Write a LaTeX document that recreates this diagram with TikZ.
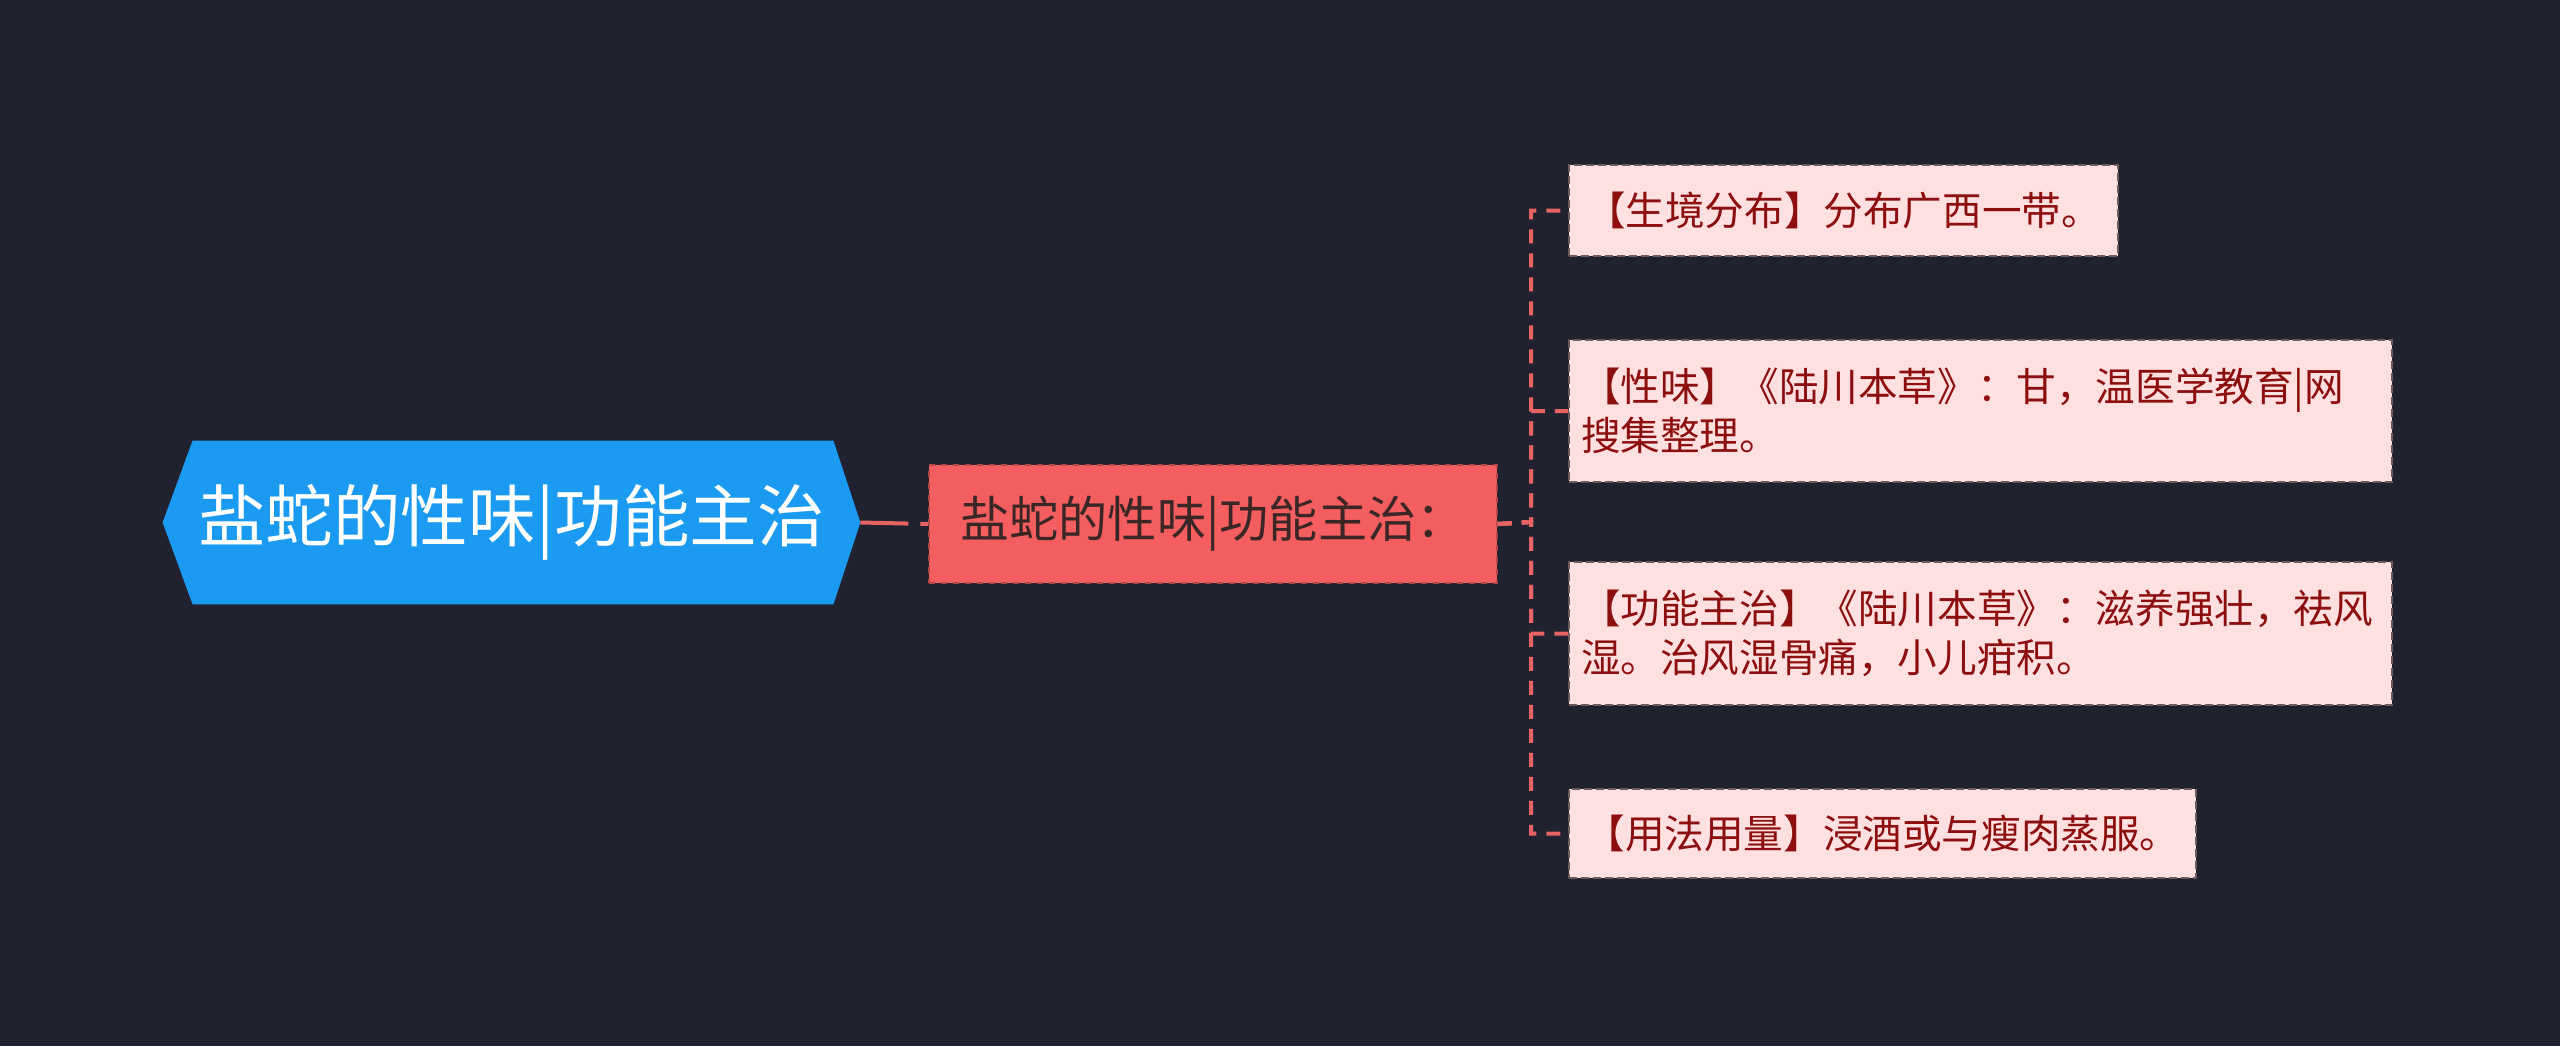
\documentclass[tikz,border=0pt]{standalone}
\usepackage{fontspec}
\newfontfamily\cjk{Noto Sans CJK SC}
\usetikzlibrary{backgrounds}
\definecolor{bgc}{HTML}{20232F}
\definecolor{rootc}{HTML}{1A9AF0}
\definecolor{midc}{HTML}{F45E5E}
\definecolor{midline}{HTML}{B84848}
\definecolor{midtext}{HTML}{3A2626}
\definecolor{leafc}{HTML}{FFE0E0}
\definecolor{leafline}{HTML}{6E5A5A}
\definecolor{leaftext}{HTML}{8C0E0E}
\definecolor{connc}{HTML}{E86464}
\tikzset{
  rootbox/.style={draw=none, inner sep=0pt, minimum width=348.5pt, minimum height=81.5pt,
    text=white, font=\cjk\fontsize{33.8pt}{40pt}\selectfont},
  midbox/.style={fill=midc, draw=midline, dashed, line width=0.8pt, inner sep=0pt,
    minimum width=284pt, minimum height=59pt, text=midtext, font=\cjk\fontsize{24.6pt}{30pt}\selectfont},
  leafbox/.style={fill=leafc, draw=leafline, dash pattern=on 4pt off 2pt, line width=0.7pt,
    inner xsep=6pt, inner ysep=0pt, text=leaftext, align=left,
    font=\cjk\fontsize{19.8pt}{24.5pt}\selectfont},
  conn/.style={draw=connc, line width=2pt, dash pattern=on 7pt off 5pt}
}
\begin{document}
\begin{tikzpicture}[x=0.5pt, y=-0.5pt]
\useasboundingbox (0,0) rectangle (2560,1046);
% nodes
\node[rootbox] (root) at (511.5,522.5) {盐蛇的性味|功能主治};
\node[midbox] (mid) at (1213,524) {盐蛇的性味|功能主治：};
\node[leafbox, minimum width=274.5pt, minimum height=45.5pt] (l1) at (1843.5,210.5) {【生境分布】分布广西一带。};
\node[leafbox, text width=399.5pt, minimum height=71pt] (l2) at (1980.5,411) {【性味】《陆川本草》：甘，温医学教育|网\\搜集整理。};
\node[leafbox, text width=399.5pt, minimum height=71.5pt] (l3) at (1980.5,633.5) {【功能主治】《陆川本草》：滋养强壮，祛风\\湿。治风湿骨痛，小儿疳积。};
\node[leafbox, minimum width=313.5pt, minimum height=44.5pt] (l4) at (1882.5,833.5) {【用法用量】浸酒或与瘦肉蒸服。};
\coordinate (trunk) at (1531,522);
% background and root shape
\begin{scope}[on background layer]
  \fill[bgc] (0,0) rectangle (2560,1046);
  \fill[rootc] (root.west) -- ([xshift=15pt]root.north west) -- ([xshift=-13.5pt]root.north east)
    -- (root.east) -- ([xshift=-13.5pt]root.south east) -- ([xshift=15pt]root.south west) -- cycle;
\end{scope}
% connectors
\draw[conn, dash pattern=on 24pt off 6pt] (root.east) -- (mid.west);
\draw[conn] (mid.east) -- (trunk) |- (l1.west);
\draw[conn] (mid.east) -- (trunk) |- (l2.west);
\draw[conn] (mid.east) -- (trunk) |- (l3.west);
\draw[conn] (mid.east) -- (trunk) |- (l4.west);
\end{tikzpicture}
\end{document}
